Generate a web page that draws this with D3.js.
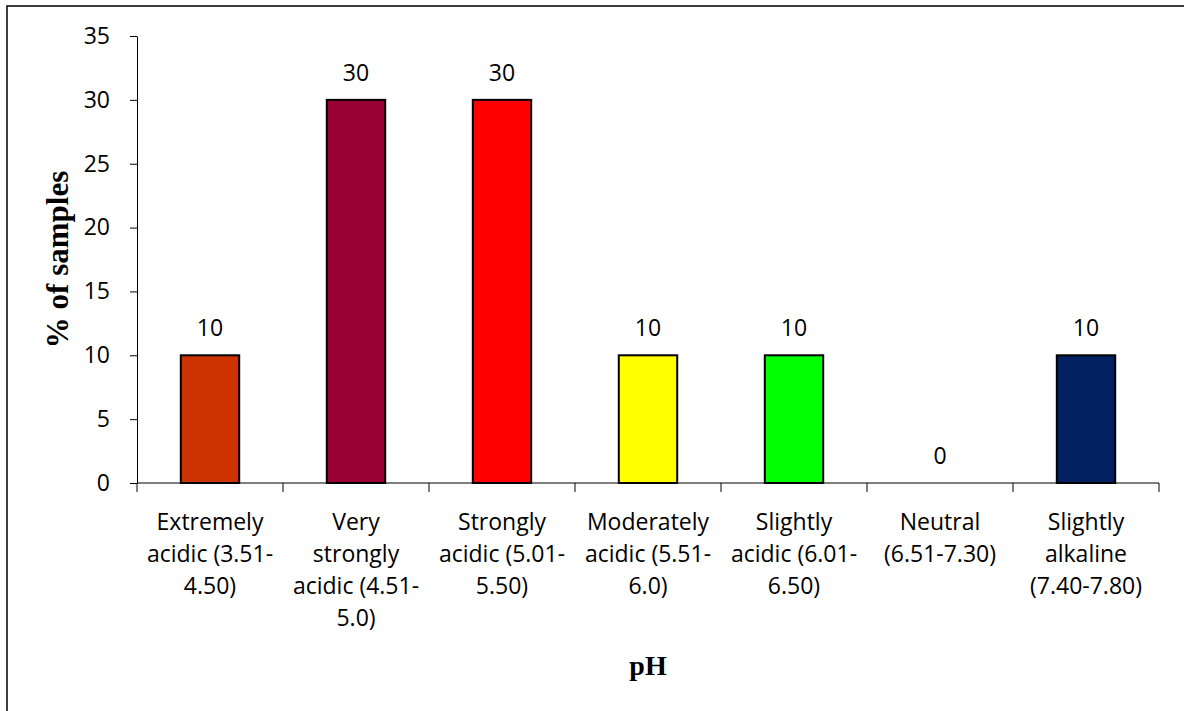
<!DOCTYPE html>
<html>
<head>
<meta charset="utf-8">
<script src="https://cdn.jsdelivr.net/npm/d3@7"></script>
<style>
body { margin: 0; background: #fff; }
</style>
</head>
<body>
<script>
var categories = ["Extremely acidic (3.51-4.50)", "Very strongly acidic (4.51-5.0)", "Strongly acidic (5.01-5.50)",
  "Moderately acidic (5.51-6.0)", "Slightly acidic (6.01-6.50)", "Neutral (6.51-7.30)", "Slightly alkaline (7.40-7.80)"];
var labelLines = [
  ["Extremely", "acidic (3.51-", "4.50)"],
  ["Very", "strongly", "acidic (4.51-", "5.0)"],
  ["Strongly", "acidic (5.01-", "5.50)"],
  ["Moderately", "acidic (5.51-", "6.0)"],
  ["Slightly", "acidic (6.01-", "6.50)"],
  ["Neutral", "(6.51-7.30)"],
  ["Slightly", "alkaline", "(7.40-7.80)"]];
var values = [10, 30, 30, 10, 10, 0, 10];
var colors = ["#CC3300", "#990033", "#FF0000", "#FFFF00", "#00FF00", "#FFFFFF", "#002060"];
var yTicks = [0, 5, 10, 15, 20, 25, 30, 35];

var width = 1184, height = 711;
var plotLeft = 137, plotRight = 1159, plotTop = 36, plotBottom = 483;
var font = "'Open Sans', sans-serif";
var serif = "'Liberation Serif', 'Times New Roman', serif";

var svg = d3.select("body").append("svg")
  .attr("width", width)
  .attr("height", height);

// outer frame (right and bottom edges run off the picture)
svg.append("rect")
  .attr("x", 7).attr("y", 6)
  .attr("width", 1200).attr("height", 720)
  .attr("fill", "none")
  .attr("stroke", "black")
  .attr("stroke-width", 1.5);

var x = d3.scaleBand()
  .domain(categories)
  .range([plotLeft, plotRight])
  .paddingInner(0.6)
  .paddingOuter(0.3);

var y = d3.scaleLinear()
  .domain([0, 35])
  .range([plotBottom, plotTop]);

// y axis
var yAxis = svg.append("g")
  .attr("transform", "translate(" + plotLeft + ",0)")
  .call(d3.axisLeft(y).tickValues(yTicks).tickSize(7).tickSizeOuter(0).tickPadding(20));
yAxis.selectAll("text").attr("font-family", font).attr("font-size", 23).attr("fill", "black");
yAxis.selectAll("line, path").attr("stroke", "black");

// x axis line and boundary ticks
var step = x.step();
svg.append("line")
  .attr("x1", plotLeft).attr("x2", plotRight)
  .attr("y1", plotBottom).attr("y2", plotBottom)
  .attr("stroke", "black");
var bounds = categories.map(function (d) { return x(d) - x.paddingOuter() * step; }).concat([plotRight]);
svg.selectAll(".xtick")
  .data(bounds)
  .enter().append("line")
  .attr("class", "xtick")
  .attr("x1", function (d) { return d; })
  .attr("x2", function (d) { return d; })
  .attr("y1", plotBottom).attr("y2", plotBottom + 9)
  .attr("stroke", "black");

// bars (the zero bar draws nothing)
svg.selectAll(".bar")
  .data(values)
  .enter().append("rect")
  .attr("class", "bar")
  .attr("x", function (d, i) { return x(categories[i]); })
  .attr("y", function (d) { return y(d); })
  .attr("width", x.bandwidth())
  .attr("height", function (d) { return plotBottom - y(d); })
  .attr("fill", function (d, i) { return colors[i]; })
  .attr("stroke", function (d) { return d > 0 ? "black" : "none"; })
  .attr("stroke-width", 2);

// value labels
svg.selectAll(".val")
  .data(values)
  .enter().append("text")
  .attr("class", "val")
  .attr("x", function (d, i) { return x(categories[i]) + x.bandwidth() / 2; })
  .attr("y", function (d) { return y(d) - 19; })
  .attr("text-anchor", "middle")
  .attr("font-family", font)
  .attr("font-size", 23)
  .text(function (d) { return d; });

// category labels
var cat = svg.selectAll(".cat")
  .data(labelLines)
  .enter().append("text")
  .attr("class", "cat")
  .attr("text-anchor", "middle")
  .attr("font-family", font)
  .attr("font-size", 23)
  .attr("transform", function (d, i) { return "translate(" + (x(categories[i]) + x.bandwidth() / 2) + "," + (plotBottom + 47) + ")"; });
cat.selectAll("tspan")
  .data(function (d) { return d; })
  .enter().append("tspan")
  .attr("x", 0)
  .attr("y", function (d, i) { return i * 32; })
  .text(function (d) { return d; });

// axis titles
svg.append("text")
  .attr("x", (plotLeft + plotRight) / 2)
  .attr("y", 675)
  .attr("text-anchor", "middle")
  .attr("font-family", serif)
  .attr("font-weight", "bold")
  .attr("font-size", 28)
  .text("pH");

svg.append("text")
  .attr("transform", "translate(68," + ((plotTop + plotBottom) / 2) + ") rotate(-90)")
  .attr("text-anchor", "middle")
  .attr("font-family", serif)
  .attr("font-weight", "bold")
  .attr("font-size", 31)
  .text("% of samples");
</script>
</body>
</html>
